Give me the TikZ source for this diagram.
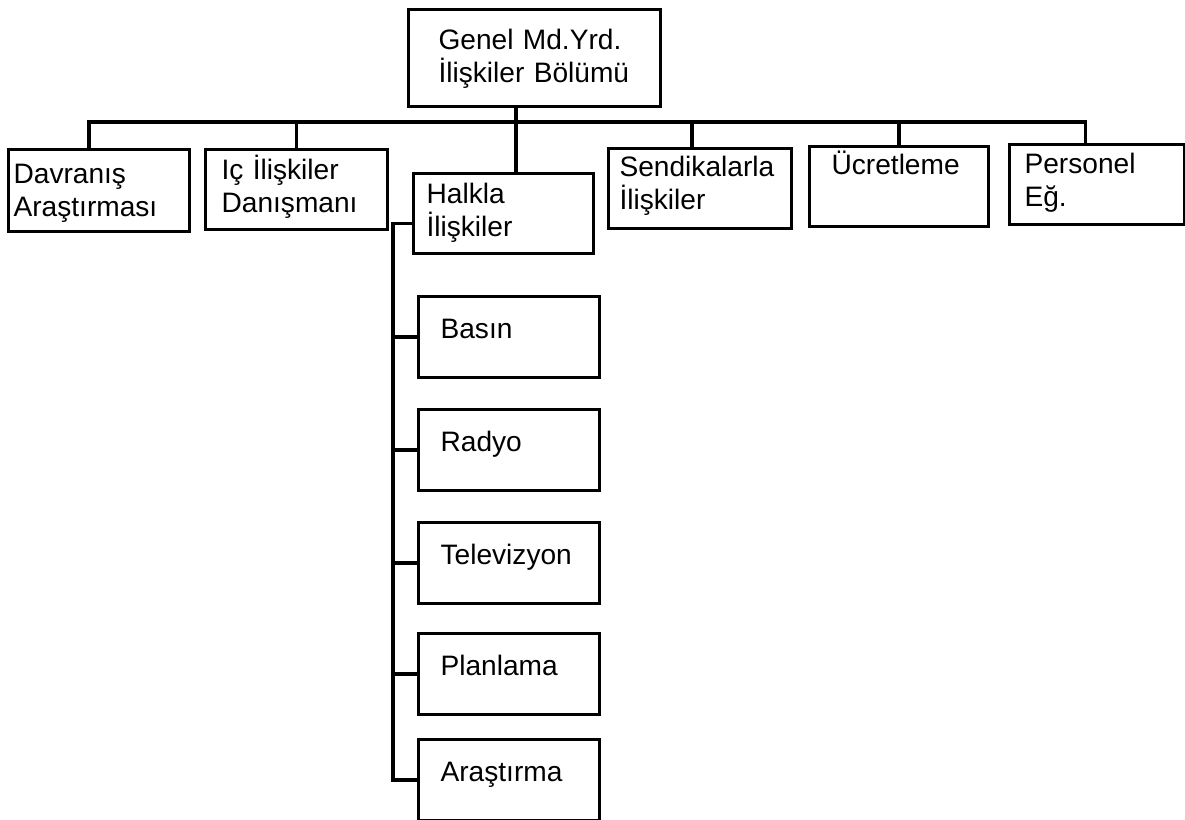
\documentclass[tikz,border=0pt]{standalone}
\usepackage{fontspec}
\setmainfont{Liberation Sans}
\tikzset{
  unit/.style={draw, line width=1.8pt, anchor=north west, align=left, inner ysep=0pt,
    font=\fontsize{16}{18.8}\selectfont},
  subunit/.style={unit, inner xsep=0.44cm, text width=2.74cm, text height=0.84cm, text depth=0.78cm},
  link/.style={line width=1.8pt},
}
\begin{document}
\begin{tikzpicture}[x=0.02cm,y=-0.02cm]
  \useasboundingbox (0,0) rectangle (1185,820);
  % head
  \node[unit, inner xsep=0.6cm, text width=3.84cm, text height=0.8cm, text depth=1.14cm] (genel) at (407,8) {Genel Md.Yrd.\\İlişkiler Bölümü};
  % first row
  \node[unit, inner xsep=0.1cm, text width=3.42cm, text height=0.68cm, text depth=0.96cm] (davranis) at (7,148) {Davranış\\Araştırması};
  \node[unit, inner xsep=0.32cm, text width=3.0cm, text height=0.6cm, text depth=1.0cm] (ic) at (204,148) {Iç İlişkiler\\Danışmanı};
  \node[unit, inner xsep=0.26cm, text width=3.08cm, text height=0.6cm, text depth=1.0cm] (halkla) at (412,172) {Halkla\\İlişkiler};
  \node[unit, inner xsep=0.22cm, text width=3.22cm, text height=0.56cm, text depth=1.04cm] (sendika) at (607,147) {Sendikalarla\\İlişkiler};
  \node[unit, inner xsep=0.44cm, text width=2.7cm, text height=0.56cm, text depth=1.04cm] (ucret) at (808,145) {Ücretleme};
  \node[unit, inner xsep=0.3cm, text width=2.9cm, text height=0.58cm, text depth=1.02cm] (personel) at (1008,143) {Personel\\Eğ.};
  % units under Halkla Ilişkiler
  \foreach \n/\t/\y in {basin/Basın/295, radyo/Radyo/408, televizyon/Televizyon/521, planlama/Planlama/632, arastirma/Araştırma/738}
    \node[subunit] (\n) at (417,\y) {\t};
  % bus
  \coordinate (trunk) at (516,122);
  \draw[link] (trunk |- genel.south) -- (trunk |- halkla.north);
  \draw[link] ([xshift=-0.2cm]davranis.north) -- ([xshift=-0.2cm]davranis.north |- trunk)
    -- ([xshift=-0.24cm]personel.north |- trunk) -- ([xshift=-0.24cm]personel.north);
  \draw[link] (ic.north) -- (ic.north |- trunk);
  \draw[link] ([xshift=-0.16cm]sendika.north) -- ([xshift=-0.16cm]sendika.north |- trunk);
  \draw[link] (ucret.north) -- (ucret.north |- trunk);
  % spine
  \coordinate (spine) at ([xshift=-0.38cm,yshift=-0.2cm]halkla.west);
  \draw[link] ([yshift=-0.2cm]halkla.west) -- (spine) |- (arastirma.west);
  \foreach \n in {basin,radyo,televizyon,planlama}
    \draw[link] (spine |- \n.west) -- (\n.west);
\end{tikzpicture}
\end{document}
